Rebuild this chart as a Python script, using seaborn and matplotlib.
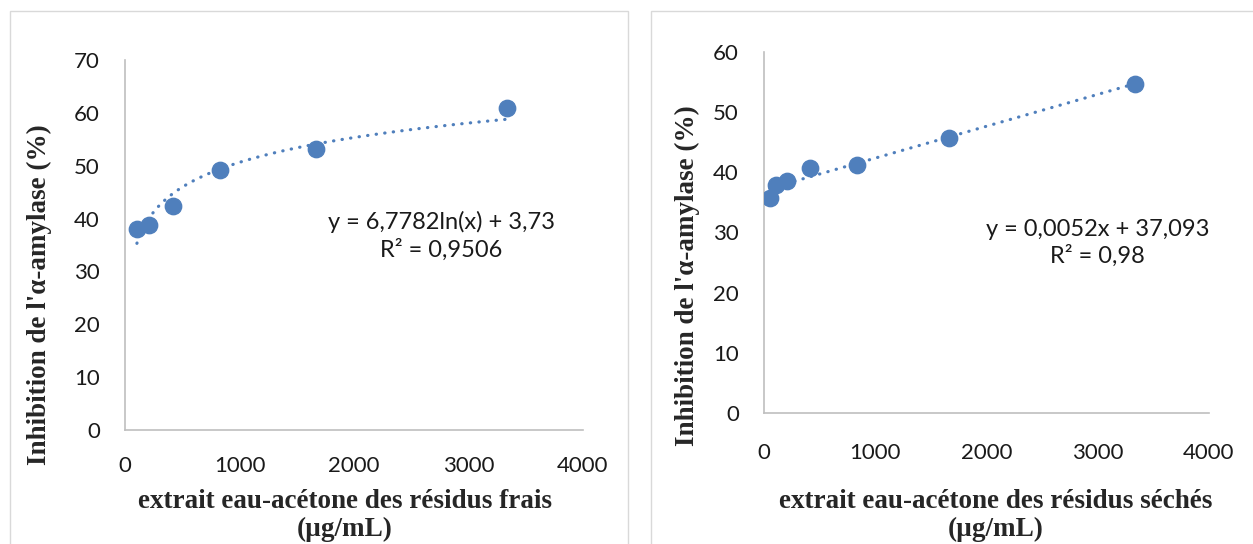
import numpy as np
import pandas as pd
import seaborn as sns
import matplotlib.pyplot as plt
from matplotlib.patches import Rectangle

# data
conc_frais = [104, 208, 416, 833, 1666, 3333]
inhib_frais = [38.1, 38.7, 42.3, 49.1, 53.2, 60.9]
conc_seches = [52, 104, 208, 416, 833, 1666, 3333]
inhib_seches = [35.8, 37.9, 38.5, 40.7, 41.2, 45.7, 54.7]

eq_frais = 'y = 6,7782ln(x) + 3,73\nR² = 0,9506'
eq_seches = 'y = 0,0052x + 37,093\nR² = 0,98'

sns.set_style('white')
plt.rcParams['font.family'] = ['Lato', 'DejaVu Sans']

blue = '#4f7fbc'
grey = '#bfbfbf'

df_frais = pd.DataFrame({'x': conc_frais, 'y': inhib_frais})
df_seches = pd.DataFrame({'x': conc_seches, 'y': inhib_seches})

fig = plt.figure(figsize=(12.53, 5.44), dpi=100)

# panel frames
fig.patches.append(Rectangle((10 / 1253, -0.1), 618 / 1253, 1.1 - 11 / 544,
                             transform=fig.transFigure, fill=False, edgecolor='#d9d9d9', lw=1))
fig.patches.append(Rectangle((651 / 1253, -0.1), 610 / 1253, 1.1 - 11 / 544,
                             transform=fig.transFigure, fill=False, edgecolor='#d9d9d9', lw=1))

ax1 = fig.add_axes([125 / 1253, 1 - 430 / 544, 458 / 1253, 370 / 544])
ax2 = fig.add_axes([764 / 1253, 1 - 413 / 544, 445 / 1253, 361 / 544])

label_font = {'family': 'Liberation Serif', 'weight': 'bold', 'size': 19.5}

def draw_panel(ax, df, logx, ymax, eq, eq_pos, xlabel, xl_pos, yl_pos, tickpad):
    sns.regplot(data=df, x='x', y='y', logx=logx, ci=None, scatter=False, ax=ax,
                line_kws={'color': blue, 'lw': 2.3, 'linestyle': (0, (0.1, 2.6)),
                          'dash_capstyle': 'round'})
    sns.scatterplot(data=df, x='x', y='y', ax=ax, color=blue, s=140, edgecolor=blue, zorder=3)
    ax.set_xlim(0, 4000)
    ax.set_ylim(0, ymax)
    ax.set_xticks(range(0, 4001, 1000))
    ax.set_yticks(range(0, ymax + 1, 10))
    ax.tick_params(axis='x', length=0, pad=tickpad, labelsize=16, labelcolor='#1a1a1a')
    ax.tick_params(axis='y', length=0, pad=18, labelsize=16, labelcolor='#1a1a1a')
    for side in ['top', 'right']:
        ax.spines[side].set_visible(False)
    for side in ['left', 'bottom']:
        ax.spines[side].set_color(grey)
        ax.spines[side].set_linewidth(1.2)
    ax.set_xlabel(xlabel, fontdict=label_font, linespacing=1.15)
    ax.xaxis.set_label_coords(*xl_pos)
    ax.set_ylabel("Inhibition de l'α-amylase (%)", fontdict=label_font)
    ax.yaxis.set_label_coords(*yl_pos)
    ax.yaxis.label.set_verticalalignment('center')
    ax.text(eq_pos[0], eq_pos[1], eq, transform=ax.transAxes, ha='center', va='center',
            fontsize=17, color='#1a1a1a', linespacing=1.3)

draw_panel(ax1, df_frais, True, 70, eq_frais, (0.69, 0.524),
           'extrait eau-acétone des résidus frais\n(µg/mL)', (0.48, -0.16), (-0.186, 0.365), 19)
draw_panel(ax2, df_seches, False, 60, eq_seches, (0.75, 0.471),
           'extrait eau-acétone des résidus séchés\n(µg/mL)', (0.521, -0.21), (-0.171, 0.38), 21.5)

fig.savefig('out.png', dpi=100)
